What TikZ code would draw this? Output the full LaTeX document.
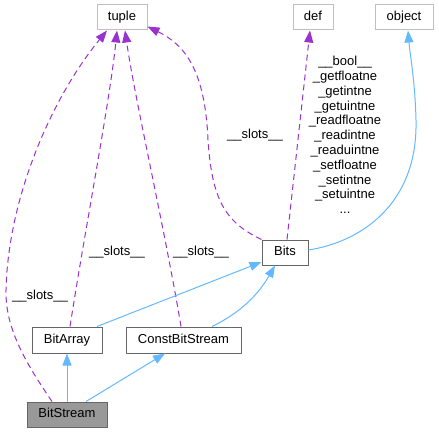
\documentclass[tikz,border=0pt]{standalone}
\usepackage{fontspec}
\setmainfont{Liberation Sans}
\usetikzlibrary{arrows.meta}
\definecolor{purp}{HTML}{9A32CD}
\definecolor{blu}{HTML}{63B8FF}
\definecolor{lgray}{HTML}{BFBFBF}
\definecolor{dgray}{HTML}{666666}
\definecolor{fillgray}{HTML}{999999}
\tikzset{
  every node/.style={font=\fontsize{13}{14.8}\selectfont},
  extbox/.style={draw=lgray, line width=1pt, fill=white, inner sep=0pt, minimum height=25pt, text height=9.5pt, text depth=2.8pt},
  clsbox/.style={draw=dgray, line width=1pt, fill=white, inner sep=0pt, minimum height=25pt, text height=9.5pt, text depth=2.8pt},
  usearrow/.style={draw=purp, line width=1pt, dash pattern=on 6pt off 4pt, -{Triangle[length=12pt,width=9pt,fill=purp]}},
  inharrow/.style={draw=blu, line width=1pt, -{Triangle[length=12pt,width=9pt,fill=blu]}},
  lbl/.style={inner sep=0pt, align=center}
}
\begin{document}
\begin{tikzpicture}[x=1pt,y=-1pt]
\useasboundingbox (0,0) rectangle (439,433);
\node[extbox, minimum width=50pt] (tuple) at (122,17.5) {tuple};
\node[extbox, minimum width=40pt] (def) at (313,17.5) {def};
\node[extbox, minimum width=58pt] (object) at (404,17.5) {object};
\node[clsbox, minimum width=46pt] (bits) at (285,252.5) {Bits};
\node[clsbox, minimum width=70pt, minimum height=26pt] (bitarray) at (67,340) {BitArray};
\node[clsbox, minimum width=115pt, minimum height=26pt] (constbitstream) at (183.5,340) {ConstBitStream};
\node[clsbox, fill=fillgray, minimum width=80pt] (bitstream) at (67,414.5) {BitStream};

% dashed usage edges
\draw[usearrow] ([xshift=-15pt]bitstream.north) .. controls (28,366) and (5,330) .. (6,290)
   .. controls (8,200) and (50,100) .. ([xshift=-15pt]tuple.south);
\draw[usearrow] ([xshift=3pt]bitarray.north) .. controls (85,230) and (110,100) .. ([xshift=-5pt]tuple.south);
\draw[usearrow] ([xshift=-2.5pt]constbitstream.north) .. controls (165,230) and (135,100) .. ([xshift=3pt]tuple.south);
\draw[usearrow] (bits.north west) .. controls (225,222) and (212,200) .. (208,140)
   .. controls (205,70) and (185,45) .. ([yshift=-9pt]tuple.east);
\draw[usearrow] ([xshift=2pt]bits.north) -- ([xshift=-3pt]def.south);

% inheritance edges
\draw[inharrow] ([yshift=2.5pt]bits.east) .. controls (360,242) and (418,205) .. (416,120)
   .. controls (415,80) and (410,55) .. ([xshift=4pt]object.south);
\draw[inharrow] ([xshift=30pt]bitarray.north) -- ([yshift=-9.5pt]bits.west);
\draw[inharrow] ([xshift=28.5pt]constbitstream.north) .. controls (240,313) and (258,295) .. ([xshift=-10pt]bits.south);
\draw[inharrow] (bitstream.north) -- (bitarray.south);
\draw[inharrow] ([xshift=19pt]bitstream.north) -- ([xshift=-18.5pt]constbitstream.south);

% labels
\node[lbl] (l1) at (40,296) {\_\_slots\_\_};
\node[lbl] (l2) at (117,252) {\_\_slots\_\_};
\node[lbl] (l3) at (201,252) {\_\_slots\_\_};
\node[lbl] (l4) at (255,135) {\_\_slots\_\_};
\node[lbl] (l5) at (345,135) {\_\_bool\_\_\\\_getfloatne\\\_getintne\\\_getuintne\\\_readfloatne\\\_readintne\\\_readuintne\\\_setfloatne\\\_setintne\\\_setuintne\\...};
\end{tikzpicture}
\end{document}
